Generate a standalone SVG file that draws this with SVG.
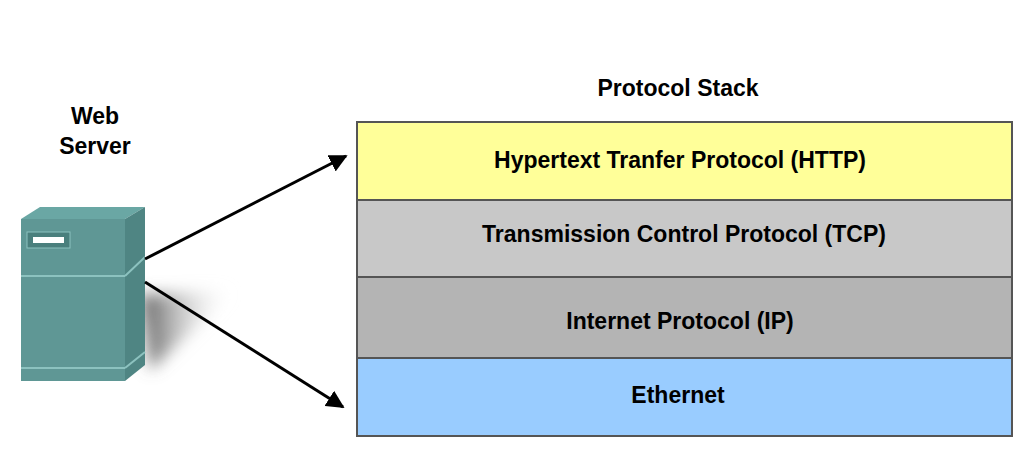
<svg xmlns="http://www.w3.org/2000/svg" width="1024" height="455" viewBox="0 0 1024 455">
<defs>
<style>
text{font-family:"Liberation Sans",Arial,sans-serif;font-weight:bold;font-size:23px;fill:#000;text-anchor:middle}
.row{stroke:#555;stroke-width:2}
.ln{stroke:#000;stroke-width:3;fill:none}
</style>
<marker id="ah" viewBox="0 0 10 10" refX="9" refY="5" markerWidth="6" markerHeight="6" orient="auto" markerUnits="strokeWidth"><path d="M0,0L10,5L0,10z" fill="#000"/></marker>
<linearGradient id="sh" x1="0" y1="0" x2="1" y2="0"><stop offset="0" stop-color="#555"/><stop offset="1" stop-color="#fff" stop-opacity="0"/></linearGradient>
<filter id="bl" x="-50%" y="-50%" width="200%" height="200%"><feGaussianBlur stdDeviation="8"/></filter>
</defs>
<rect width="1024" height="455" fill="#fff"/>
<g id="server">
<text x="95" y="124">Web</text>
<text x="95" y="154">Server</text>
<polygon points="140,295 235,290 150,370" fill="url(#sh)" filter="url(#bl)"/>
<polygon points="21,219 40,207 145,207 125,219" fill="#6aa7a4"/>
<polygon points="125,219 145,207 145,365 125,381" fill="#4f8583"/>
<rect x="21" y="219" width="104" height="162" fill="#5f9795"/>
<line x1="21" y1="276" x2="125" y2="276" stroke="#8cc2bf" stroke-width="2"/>
<line x1="125" y1="276" x2="145" y2="257" stroke="#8cc2bf" stroke-width="2"/>
<line x1="21" y1="368" x2="125" y2="368" stroke="#8cc2bf" stroke-width="2"/>
<line x1="125" y1="368" x2="145" y2="352" stroke="#8cc2bf" stroke-width="2"/>
<rect x="27" y="232" width="43" height="16" fill="#4a7f7d" stroke="#8cc2bf"/>
<rect x="33" y="237" width="31" height="6" fill="#fff"/>
</g>
<g id="connectors">
<line class="ln" x1="145" y1="259" x2="346" y2="156" marker-end="url(#ah)"/>
<line class="ln" x1="145" y1="282" x2="343" y2="407" marker-end="url(#ah)"/>
</g>
<g id="stack">
<text x="678" y="96">Protocol Stack</text>
<g id="http"><rect class="row" x="357" y="122" width="655" height="78" fill="#ffff99"/><text x="680" y="168">Hypertext Tranfer Protocol (HTTP)</text></g>
<g id="tcp"><rect class="row" x="357" y="200" width="655" height="77" fill="#c8c8c8"/><text x="684" y="242">Transmission Control Protocol (TCP)</text></g>
<g id="ip"><rect class="row" x="357" y="277" width="655" height="81" fill="#b4b4b4"/><text x="680" y="329">Internet Protocol (IP)</text></g>
<g id="eth"><rect class="row" x="357" y="358" width="655" height="78" fill="#99ccff"/><text x="678" y="403">Ethernet</text></g>
</g>
</svg>
